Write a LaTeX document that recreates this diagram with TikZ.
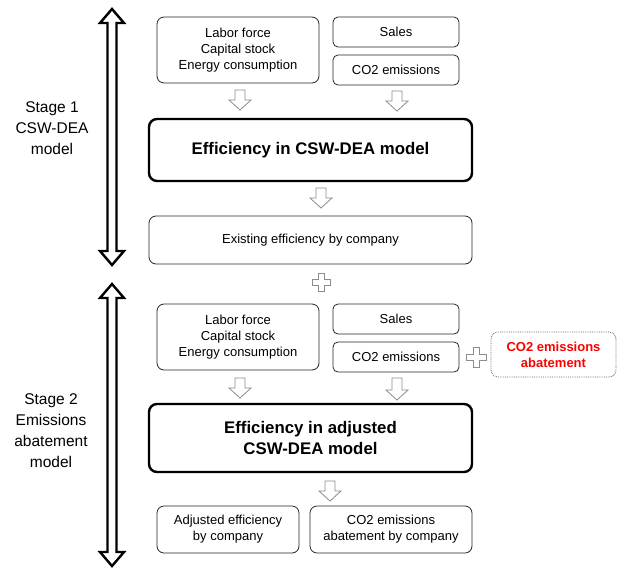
\documentclass[tikz,border=0pt]{standalone}
\usepackage{fontspec}
\setmainfont{Liberation Sans}
\begin{document}
\begin{tikzpicture}[x=1pt,y=-1pt,
  box/.style={draw=black!85,line width=0.8pt,rounded corners=7pt,align=center,font=\fontsize{13}{16}\selectfont,inner sep=0pt},
  bigbox/.style={draw=black,line width=2.4pt,rounded corners=8pt,align=center,font=\bfseries\fontsize{16.8}{21}\selectfont,inner sep=0pt},
  hol/.style={draw=black!45,line width=0.8pt,fill=white},
  dbl/.style={draw=black,line width=2.4pt,fill=white,line join=miter},
  stagelbl/.style={align=center,font=\fontsize{15.5}{21}\selectfont}]
\useasboundingbox (0,0) rectangle (618,568);
% helper macros
\newcommand{\holarrow}[3]{% x, ytop, ybottom
  \draw[hol] (#1-5,#2) -- (#1+5,#2) -- (#1+5,#3-10) -- (#1+11,#3-10) -- (#1,#3) -- (#1-11,#3-10) -- (#1-5,#3-10) -- cycle;}
\newcommand{\holplus}[3]{% x, y center, half-size
  \draw[hol] (#1-3,#2-#3) -- (#1+3,#2-#3) -- (#1+3,#2-3) -- (#1+#3,#2-3) -- (#1+#3,#2+3) -- (#1+3,#2+3) -- (#1+3,#2+#3) -- (#1-3,#2+#3) -- (#1-3,#2+3) -- (#1-#3,#2+3) -- (#1-#3,#2-3) -- (#1-3,#2-3) -- cycle;}
\newcommand{\dblarrow}[3]{% x, ytop, ybottom
  \draw[dbl] (#1,#2) -- (#1+12,#2+14) -- (#1+4.5,#2+14) -- (#1+4.5,#3-14) -- (#1+12,#3-14) -- (#1,#3) -- (#1-12,#3-14) -- (#1-4.5,#3-14) -- (#1-4.5,#2+14) -- (#1-12,#2+14) -- cycle;}

% Stage 1
\node[box,minimum width=162pt,minimum height=66pt] (in1) at (238,50) {Labor force\\Capital stock\\Energy consumption};
\node[box,minimum width=126pt,minimum height=30pt,rounded corners=5pt] (sales1) at (396,32) {Sales};
\node[box,minimum width=126pt,minimum height=30pt,rounded corners=5pt] (co1) at (396,70) {CO2 emissions};
\node[bigbox,minimum width=323pt,minimum height=62pt] (eff1) at (310.5,150) {Efficiency in CSW-DEA model};
\node[box,minimum width=323pt,minimum height=48pt] (exist) at (310.5,240) {Existing efficiency by company};

\holarrow{240}{90}{110}
\holarrow{397}{91}{111}
\holarrow{321}{188}{208}
\holplus{321}{282}{9}

% Stage 2
\node[box,minimum width=162pt,minimum height=66pt] (in2) at (238,337) {Labor force\\Capital stock\\Energy consumption};
\node[box,minimum width=126pt,minimum height=30pt,rounded corners=5pt] (sales2) at (396,319) {Sales};
\node[box,minimum width=126pt,minimum height=30pt,rounded corners=5pt] (co2) at (396,357) {CO2 emissions};
\node[box,draw=black!60,densely dotted,minimum width=125pt,minimum height=45pt,text=red,font=\bfseries\fontsize{13}{16}\selectfont] (abt) at (553.5,354.5) {CO2 emissions\\abatement};
\holplus{476}{357}{10}
\node[bigbox,minimum width=323pt,minimum height=68pt] (eff2) at (310.5,438) {Efficiency in adjusted\\CSW-DEA model};
\holarrow{240}{378}{398}
\holarrow{397}{378}{400}
\holarrow{330}{481}{501}
\node[box,minimum width=142pt,minimum height=47pt] (adj) at (228,529.5) {Adjusted efficiency\\by company};
\node[box,minimum width=162pt,minimum height=47pt] (abc) at (391,529.5) {CO2 emissions\\abatement by company};

% Stage arrows and labels
\dblarrow{112}{9}{265}
\dblarrow{112}{284}{566}
\node[stagelbl] (s1) at (52,128) {Stage 1\\CSW-DEA\\model};
\node[stagelbl] (s2) at (51,431) {Stage 2\\Emissions\\abatement\\model};
\end{tikzpicture}
\end{document}
